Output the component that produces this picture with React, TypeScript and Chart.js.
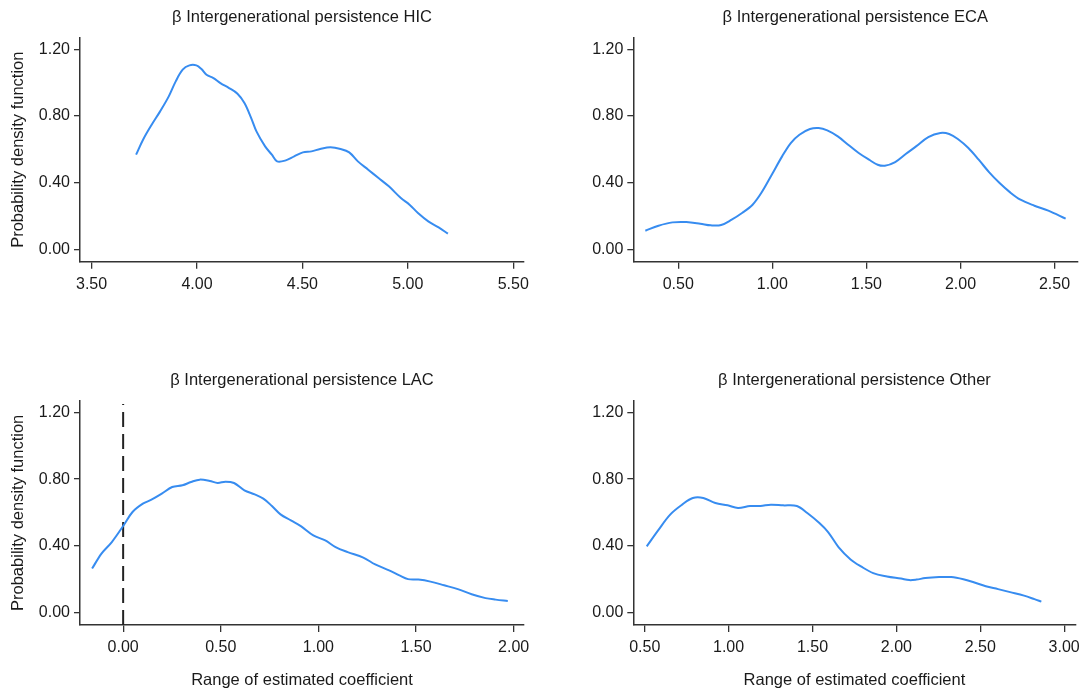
import React, { useEffect, useRef } from "react";
import { Chart, registerables } from "chart.js";

Chart.register(...registerables);

const FONT = '"Liberation Sans", Arial, Helvetica, sans-serif';
const LINE_COLOR = "#378cf0";
const AXIS_COLOR = "#333333";
const TEXT_COLOR = "#1a1a1a";

// ---- shared y axis ----
const yTicks = [0, 0.4, 0.8, 1.2];
const yMin = -0.074;
const yMax = 1.27;
const yTitle = "Probability density function";
const xTitle = "Range of estimated coefficient";

// ---- HIC ----
const hicTitle = "β Intergenerational persistence HIC";
const hicTicks = [3.5, 4.0, 4.5, 5.0, 5.5];
const hicRange = [3.445, 5.551];
const hicX = [3.711, 3.744, 3.785, 3.825, 3.866, 3.899, 3.932, 3.964, 3.997, 4.021, 4.045, 4.078, 4.111, 4.152, 4.192, 4.225, 4.257, 4.282, 4.323, 4.355, 4.38, 4.421, 4.461, 4.502, 4.543, 4.584, 4.633, 4.681, 4.722, 4.763, 4.812, 4.861, 4.91, 4.967, 5.008, 5.048, 5.097, 5.146, 5.19];
const hicY = [0.568, 0.658, 0.748, 0.828, 0.918, 1.008, 1.078, 1.104, 1.104, 1.082, 1.048, 1.028, 0.998, 0.968, 0.934, 0.878, 0.788, 0.708, 0.618, 0.568, 0.528, 0.534, 0.558, 0.582, 0.588, 0.602, 0.612, 0.602, 0.582, 0.528, 0.478, 0.428, 0.378, 0.308, 0.268, 0.218, 0.168, 0.132, 0.094];

// ---- ECA ----
const ecaTitle = "β Intergenerational persistence ECA";
const ecaTicks = [0.5, 1.0, 1.5, 2.0, 2.5];
const ecaRange = [0.261, 2.621];
const ecaX = [0.325, 0.395, 0.469, 0.543, 0.617, 0.673, 0.728, 0.784, 0.839, 0.895, 0.941, 0.997, 1.052, 1.098, 1.144, 1.2, 1.246, 1.292, 1.348, 1.403, 1.459, 1.514, 1.56, 1.598, 1.653, 1.709, 1.764, 1.829, 1.893, 1.94, 1.986, 2.042, 2.097, 2.153, 2.208, 2.264, 2.319, 2.393, 2.467, 2.559];
const ecaY = [0.112, 0.142, 0.162, 0.164, 0.154, 0.144, 0.146, 0.178, 0.218, 0.268, 0.338, 0.448, 0.558, 0.638, 0.688, 0.722, 0.728, 0.714, 0.678, 0.628, 0.578, 0.538, 0.508, 0.502, 0.524, 0.572, 0.618, 0.674, 0.698, 0.692, 0.662, 0.608, 0.538, 0.462, 0.398, 0.342, 0.298, 0.262, 0.232, 0.184];

// ---- LAC ----
const lacTitle = "β Intergenerational persistence LAC";
const lacTicks = [0.0, 0.5, 1.0, 1.5, 2.0];
const lacRange = [-0.221, 2.053];
const lacRefX = 0;
const lacRefTop = 1.25;
const lacX = [-0.159, -0.111, -0.058, 0.0, 0.048, 0.101, 0.145, 0.198, 0.251, 0.304, 0.348, 0.392, 0.444, 0.484, 0.524, 0.568, 0.621, 0.674, 0.718, 0.762, 0.806, 0.859, 0.912, 0.974, 1.035, 1.088, 1.15, 1.23, 1.291, 1.362, 1.415, 1.459, 1.512, 1.574, 1.644, 1.714, 1.785, 1.856, 1.908, 1.97];
const lacY = [0.264, 0.354, 0.423, 0.519, 0.603, 0.653, 0.677, 0.713, 0.753, 0.763, 0.783, 0.797, 0.789, 0.777, 0.785, 0.777, 0.733, 0.709, 0.683, 0.639, 0.589, 0.553, 0.517, 0.463, 0.433, 0.393, 0.363, 0.33, 0.289, 0.253, 0.223, 0.201, 0.198, 0.186, 0.164, 0.141, 0.11, 0.087, 0.078, 0.07];

// ---- Other ----
const othTitle = "β Intergenerational persistence Other";
const othTicks = [0.5, 1.0, 1.5, 2.0, 2.5, 3.0];
const othRange = [0.432, 3.068];
const othX = [0.512, 0.58, 0.653, 0.725, 0.787, 0.849, 0.921, 0.994, 1.056, 1.128, 1.19, 1.252, 1.324, 1.407, 1.469, 1.541, 1.593, 1.655, 1.727, 1.789, 1.862, 1.944, 2.027, 2.077, 2.12, 2.172, 2.255, 2.327, 2.399, 2.461, 2.533, 2.606, 2.678, 2.761, 2.823, 2.864];
const othY = [0.397, 0.493, 0.589, 0.649, 0.687, 0.687, 0.657, 0.643, 0.627, 0.639, 0.639, 0.647, 0.643, 0.639, 0.597, 0.537, 0.483, 0.393, 0.319, 0.277, 0.237, 0.217, 0.204, 0.195, 0.198, 0.207, 0.213, 0.213, 0.2, 0.182, 0.158, 0.141, 0.123, 0.102, 0.081, 0.066];

// ---- layout (canvas geometry, px) ----
const CW = 543;
const CH = 347;
const TITLE_SIZE = 16.5;
const TICK_SIZE = 16;

type PanelCfg = {
  title: string;
  xs: number[];
  ys: number[];
  ticks: number[];
  range: number[];
  left: number;
  top: number;
  yAxisW: number;
  padRight: number;
  titleTop: number;
  titleBottom: number;
  xAxisH: number;
  showYTitle: boolean;
  showXTitle: boolean;
  refX?: number;
};

const panels: PanelCfg[] = [
  { title: hicTitle, xs: hicX, ys: hicY, ticks: hicTicks, range: hicRange, left: 0, top: 0, yAxisW: 80, padRight: 19, titleTop: 7.1, titleBottom: 10.8, xAxisH: 85.3, showYTitle: true, showXTitle: false },
  { title: ecaTitle, xs: ecaX, ys: ecaY, ticks: ecaTicks, range: ecaRange, left: 543, top: 0, yAxisW: 90.3, padRight: 8.7, titleTop: 7.1, titleBottom: 10.8, xAxisH: 85.3, showYTitle: false, showXTitle: false },
  { title: lacTitle, xs: lacX, ys: lacY, ticks: lacTicks, range: lacRange, left: 0, top: 347, yAxisW: 80, padRight: 19, titleTop: 23.1, titleBottom: 10.8, xAxisH: 69, showYTitle: true, showXTitle: true, refX: lacRefX },
  { title: othTitle, xs: othX, ys: othY, ticks: othTicks, range: othRange, left: 543, top: 347, yAxisW: 90.3, padRight: 8.7, titleTop: 23.1, titleBottom: 10.8, xAxisH: 69, showYTitle: false, showXTitle: true },
];

const fmt = (v: any) => Number(v).toFixed(2);

function Panel({ cfg }: { cfg: PanelCfg }) {
  const ref = useRef<HTMLCanvasElement>(null);
  useEffect(() => {
    const canvas = ref.current;
    if (!canvas) return;
    const datasets: any[] = [
      {
        data: cfg.xs.map((x, i) => ({ x, y: cfg.ys[i] })),
        borderColor: LINE_COLOR,
        borderWidth: 2,
        pointRadius: 0,
        tension: 0.35,
        fill: false,
      },
    ];
    if (cfg.refX !== undefined) {
      datasets.push({
        data: [
          { x: cfg.refX, y: yMin },
          { x: cfg.refX, y: lacRefTop },
        ],
        borderColor: "#222222",
        borderWidth: 2,
        borderDash: [15, 7],
        pointRadius: 0,
        tension: 0,
        fill: false,
      });
    }
    const tickFont = { family: FONT, size: TICK_SIZE, weight: "normal" as const };
    const titleFont = { family: FONT, size: TITLE_SIZE, weight: "normal" as const };
    const chart = new Chart(canvas, {
      type: "line",
      data: { datasets },
      options: {
        responsive: false,
        animation: false,
        devicePixelRatio: 1,
        layout: { padding: { left: 0, top: 0, right: cfg.padRight, bottom: 0 } },
        plugins: {
          legend: { display: false },
          tooltip: { enabled: false },
          title: {
            display: true,
            text: cfg.title,
            fullSize: false,
            color: TEXT_COLOR,
            font: titleFont,
            padding: { top: cfg.titleTop, bottom: cfg.titleBottom },
          },
        },
        scales: {
          x: {
            type: "linear",
            min: cfg.range[0],
            max: cfg.range[1],
            afterBuildTicks: (s: any) => {
              s.ticks = cfg.ticks.map((v) => ({ value: v }));
            },
            afterFit: (s: any) => {
              s.height = cfg.xAxisH;
            },
            grid: { drawOnChartArea: false, drawTicks: true, tickLength: 7, color: AXIS_COLOR, lineWidth: 1.3 },
            border: { display: true, color: AXIS_COLOR, width: 1.5 },
            ticks: { font: tickFont, color: TEXT_COLOR, padding: 6, maxRotation: 0, autoSkip: false, callback: fmt },
            title: {
              display: cfg.showXTitle,
              text: xTitle,
              color: TEXT_COLOR,
              font: titleFont,
              padding: { top: 0, bottom: 3.6 },
            },
          },
          y: {
            type: "linear",
            min: yMin,
            max: yMax,
            afterBuildTicks: (s: any) => {
              s.ticks = yTicks.map((v) => ({ value: v }));
            },
            afterFit: (s: any) => {
              s.width = cfg.yAxisW;
            },
            grid: { drawOnChartArea: false, drawTicks: true, tickLength: 6, color: AXIS_COLOR, lineWidth: 1.3 },
            border: { display: true, color: AXIS_COLOR, width: 1.5 },
            ticks: { font: tickFont, color: TEXT_COLOR, padding: 4, autoSkip: false, callback: fmt },
            title: {
              display: cfg.showYTitle,
              text: yTitle,
              color: TEXT_COLOR,
              font: titleFont,
              padding: { top: 9, bottom: 0 },
            },
          },
        },
      },
    });
    return () => chart.destroy();
  }, [cfg]);
  return (
    <canvas
      ref={ref}
      width={CW}
      height={CH}
      style={{ position: "absolute", left: cfg.left, top: cfg.top, width: CW, height: CH }}
    />
  );
}

export default function App() {
  return (
    <div style={{ position: "absolute", left: 0, top: 0, width: 1086, height: 694, background: "#ffffff" }}>
      {panels.map((p, i) => (
        <Panel key={i} cfg={p} />
      ))}
    </div>
  );
}
